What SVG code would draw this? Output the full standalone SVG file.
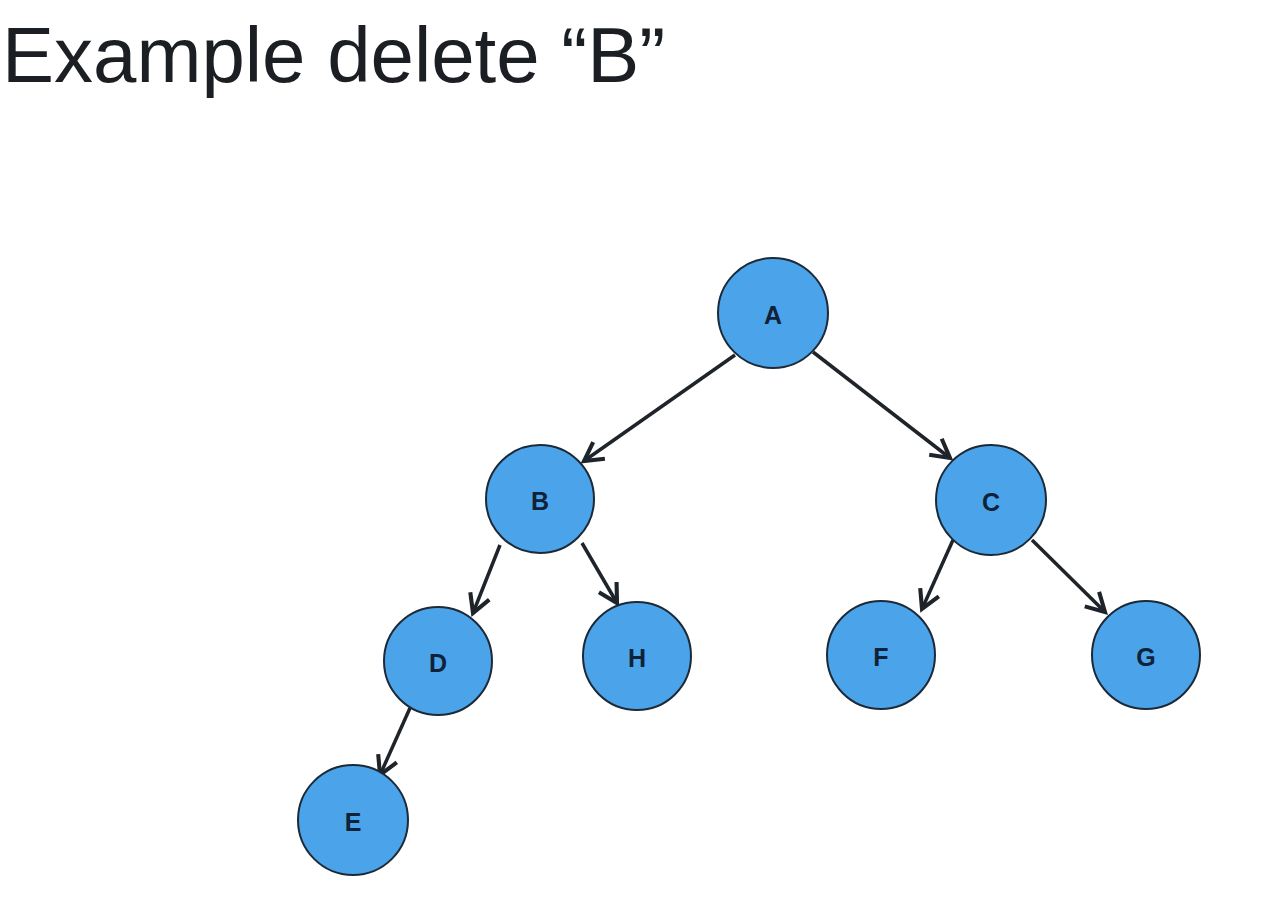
<svg xmlns="http://www.w3.org/2000/svg" width="1276" height="923" viewBox="0 0 1276 923">
<style>
.node circle{fill:#4ba3ea;stroke:#1c2a38;stroke-width:2}
.node text{font-family:"Liberation Sans",Arial,sans-serif;font-weight:bold;font-size:25px;fill:#0f2238;text-anchor:middle;dominant-baseline:central}
.edge{stroke:#1e2429;stroke-width:3.5;fill:none;marker-end:url(#arr)}
.title{font-family:"Liberation Sans",Arial,sans-serif;font-size:78px;fill:#1b1e22}
</style>
<defs>
<marker id="arr" viewBox="0 0 12 12" refX="10" refY="6" markerWidth="7" markerHeight="7" orient="auto" markerUnits="strokeWidth">
<polyline points="1,1 10,6 1,11" fill="none" stroke="#1e2429" stroke-width="2" stroke-linejoin="miter"/>
</marker>
</defs>
<rect width="1276" height="923" fill="#ffffff"/>
<text class="title" x="2" y="82">Example delete “B”</text>
<g id="connectors">
<line class="edge" x1="735" y1="355" x2="584" y2="461"/>
<line class="edge" x1="813" y1="352" x2="950" y2="458"/>
<line class="edge" x1="500" y1="545" x2="473" y2="613"/>
<line class="edge" x1="582" y1="543" x2="617" y2="603"/>
<line class="edge" x1="953" y1="540" x2="922" y2="609"/>
<line class="edge" x1="1032" y1="540" x2="1105" y2="612"/>
<line class="edge" x1="410" y1="708" x2="380" y2="775"/>
</g>
<g id="node-A" class="node"><circle cx="773" cy="313" r="55"/><text x="773" y="315">A</text></g>
<g id="node-B" class="node"><circle cx="540" cy="499" r="54"/><text x="540" y="501">B</text></g>
<g id="node-C" class="node"><circle cx="991" cy="500" r="55"/><text x="991" y="502">C</text></g>
<g id="node-D" class="node"><circle cx="438" cy="661" r="54"/><text x="438" y="663">D</text></g>
<g id="node-H" class="node"><circle cx="637" cy="656" r="54"/><text x="637" y="658">H</text></g>
<g id="node-F" class="node"><circle cx="881" cy="655" r="54"/><text x="881" y="657">F</text></g>
<g id="node-G" class="node"><circle cx="1146" cy="655" r="54"/><text x="1146" y="657">G</text></g>
<g id="node-E" class="node"><circle cx="353" cy="820" r="55"/><text x="353" y="822">E</text></g>
</svg>
